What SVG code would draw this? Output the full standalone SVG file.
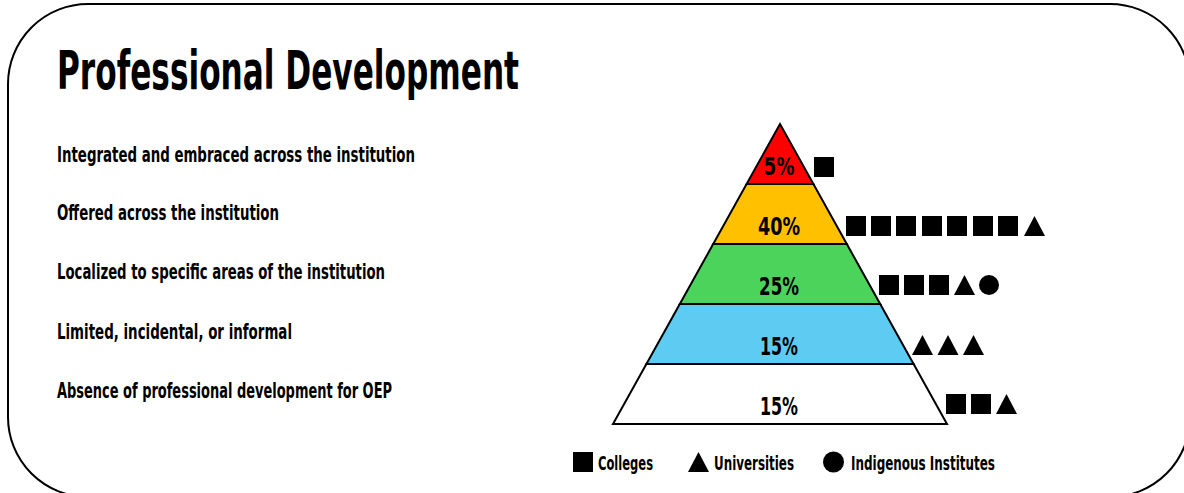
<svg xmlns="http://www.w3.org/2000/svg" xmlns:xlink="http://www.w3.org/1999/xlink" width="1184" height="493" viewBox="0 0 1184 493">
<style>
text{font-family:"Liberation Sans Narrow","DejaVu Sans Condensed","DejaVu Sans",sans-serif;font-weight:bold;fill:#000;font-stretch:condensed}
.title{font-size:54px}
.lbl{font-size:21.5px}
.pct{font-size:24.5px;text-anchor:middle}
.leg{font-size:19px}
.layer{stroke:#000;stroke-width:2;stroke-linejoin:miter}
.frame{fill:#fff;stroke:#000;stroke-width:2}
</style>
<defs>
<rect id="sq" x="0" y="0" width="20" height="20" fill="#000"/>
<polygon id="tri" points="10.5,0 21,20 0,20" fill="#000"/>
<circle id="cir" cx="10" cy="10" r="10" fill="#000"/>
</defs>
<rect class="frame" x="8" y="4" width="1182" height="493" rx="80" ry="80"/>
<g id="title"><text class="title" x="57" y="89" textLength="462" lengthAdjust="spacingAndGlyphs">Professional Development</text></g>
<g id="labels">
<text class="lbl" x="57" y="162" textLength="358" lengthAdjust="spacingAndGlyphs">Integrated and embraced across the institution</text>
<text class="lbl" x="57" y="220" textLength="222" lengthAdjust="spacingAndGlyphs">Offered across the institution</text>
<text class="lbl" x="57" y="279" textLength="328" lengthAdjust="spacingAndGlyphs">Localized to specific areas of the institution</text>
<text class="lbl" x="57" y="339" textLength="235" lengthAdjust="spacingAndGlyphs">Limited, incidental, or informal</text>
<text class="lbl" x="57" y="398" textLength="335" lengthAdjust="spacingAndGlyphs">Absence of professional development for OEP</text>
</g>
<g id="pyramid">
<g id="layer1"><polygon class="layer" fill="#ff0000" points="780,124 813.4,184 746.6,184"/><text class="pct" x="779" y="175" textLength="31" lengthAdjust="spacingAndGlyphs">5%</text></g>
<g id="layer2"><polygon class="layer" fill="#ffc000" points="746.6,184 813.4,184 846.8,244 713.2,244"/><text class="pct" x="779" y="235" textLength="42" lengthAdjust="spacingAndGlyphs">40%</text></g>
<g id="layer3"><polygon class="layer" fill="#4cd35c" points="713.2,244 846.8,244 880.2,304 679.8,304"/><text class="pct" x="779" y="295" textLength="40" lengthAdjust="spacingAndGlyphs">25%</text></g>
<g id="layer4"><polygon class="layer" fill="#5ecbf3" points="679.8,304 880.2,304 913.6,364 646.4,364"/><text class="pct" x="779" y="355" textLength="38" lengthAdjust="spacingAndGlyphs">15%</text></g>
<g id="layer5"><polygon class="layer" fill="#ffffff" points="646.4,364 913.6,364 947,424 613,424"/><text class="pct" x="779" y="415" textLength="38" lengthAdjust="spacingAndGlyphs">15%</text></g>
</g>
<g id="icons">
<use xlink:href="#sq" x="814" y="157"/>
<use xlink:href="#sq" x="846" y="216"/><use xlink:href="#sq" x="871" y="216"/><use xlink:href="#sq" x="896" y="216"/><use xlink:href="#sq" x="922" y="216"/><use xlink:href="#sq" x="947" y="216"/><use xlink:href="#sq" x="973" y="216"/><use xlink:href="#sq" x="998" y="216"/><use xlink:href="#tri" x="1024" y="216"/>
<use xlink:href="#sq" x="879" y="275"/><use xlink:href="#sq" x="904" y="275"/><use xlink:href="#sq" x="929" y="275"/><use xlink:href="#tri" x="954" y="275"/><use xlink:href="#cir" x="979" y="275"/>
<use xlink:href="#tri" x="912" y="335"/><use xlink:href="#tri" x="937.5" y="335"/><use xlink:href="#tri" x="963" y="335"/>
<use xlink:href="#sq" x="946" y="394"/><use xlink:href="#sq" x="971" y="394"/><use xlink:href="#tri" x="996" y="394"/>
</g>
<g id="legend">
<use xlink:href="#sq" x="573" y="452"/><text class="leg" x="598" y="470" textLength="55" lengthAdjust="spacingAndGlyphs">Colleges</text>
<use xlink:href="#tri" x="688" y="452"/><text class="leg" x="714" y="470" textLength="80" lengthAdjust="spacingAndGlyphs">Universities</text>
<circle cx="833.5" cy="462" r="10.5" fill="#000"/><text class="leg" x="851" y="470" textLength="144" lengthAdjust="spacingAndGlyphs">Indigenous Institutes</text>
</g>
<g id="connectors"/>
</svg>
